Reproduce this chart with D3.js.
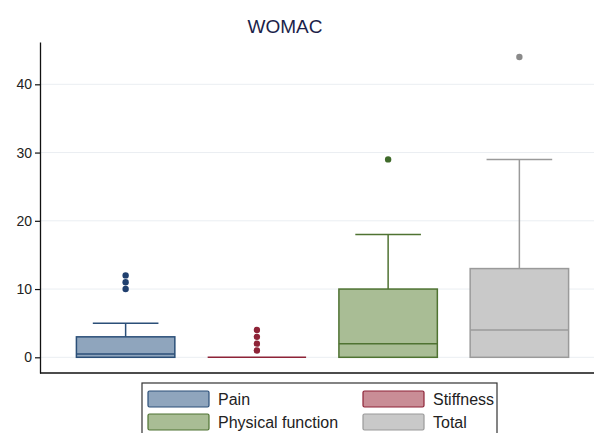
<!DOCTYPE html>
<html>
<head>
<meta charset="utf-8">
<script src="https://d3js.org/d3.v7.min.js"></script>
<style>
  body { margin: 0; background: #fff; }
  text { font-family: "Liberation Sans", Arial, sans-serif; }
</style>
</head>
<body>
<script>
// data
const categories = ["Pain", "Stiffness", "Physical function", "Total"];
const q1 = [0, 0, 0, 0];
const medians = [0.5, 0, 2, 4];
const q3 = [3, 0, 10, 13];
const whiskerHi = [5, 0, 18, 29];
const outliers = [[10, 11, 12], [1, 2, 3, 4], [29], [44]];
const yTicks = [0, 10, 20, 30, 40];

const fills = ["#8fa5bd", "#c98d96", "#a9bd95", "#c9c9c9"];
const strokes = ["#2b4f78", "#8e2337", "#4f7332", "#9a9a9a"];
const dots = ["#1f3f6e", "#8e2337", "#3f6a2a", "#8a8a8a"];

const width = 594, height = 433;

const svg = d3.select("body").append("svg")
    .attr("width", width)
    .attr("height", height);

const x = d3.scaleBand()
    .domain(categories)
    .range([60, 585])
    .paddingInner(0.25)
    .paddingOuter(0.125);

const y = d3.scaleLinear()
    .domain([-2.3, 46.2])
    .range([373, 42]);

// title
svg.append("text")
    .attr("x", 285)
    .attr("y", 33)
    .attr("text-anchor", "middle")
    .attr("font-size", 19)
    .attr("fill", "#1c1f4a")
    .text("WOMAC");

// grid lines
svg.append("g")
    .selectAll("line")
    .data(yTicks)
    .join("line")
        .attr("x1", 41)
        .attr("x2", width)
        .attr("y1", d => y(d))
        .attr("y2", d => y(d))
        .attr("stroke", "#eaeef2")
        .attr("stroke-width", 1);

// y axis
const yAxis = svg.append("g")
    .attr("transform", "translate(40,0)")
    .call(d3.axisLeft(y).tickValues(yTicks).tickSize(5).tickPadding(3).tickSizeOuter(0));
yAxis.select(".domain").attr("stroke", "#111").attr("stroke-width", 1.3);
yAxis.selectAll(".tick line").attr("stroke", "#111").attr("stroke-width", 1.2);
yAxis.selectAll(".tick text")
    .attr("font-size", 14)
    .attr("fill", "#222")
    .style("font-family", "\"Liberation Sans\", Arial, sans-serif");

// bottom line
svg.append("line")
    .attr("x1", 40).attr("x2", width)
    .attr("y1", 373).attr("y2", 373)
    .attr("stroke", "#111")
    .attr("stroke-width", 1.3);

// boxes
const boxes = svg.append("g");
categories.forEach(function (c, i) {
    const x0 = x(c), bw = x.bandwidth(), cx = x0 + bw / 2;
    const g = boxes.append("g");
    // whisker
    if (whiskerHi[i] > q3[i]) {
        g.append("line")
            .attr("x1", cx).attr("x2", cx)
            .attr("y1", y(q3[i])).attr("y2", y(whiskerHi[i]))
            .attr("stroke", strokes[i]).attr("stroke-width", 1.5);
        g.append("line")
            .attr("x1", cx - bw / 3).attr("x2", cx + bw / 3)
            .attr("y1", y(whiskerHi[i])).attr("y2", y(whiskerHi[i]))
            .attr("stroke", strokes[i]).attr("stroke-width", 1.5);
    }
    if (q3[i] > q1[i]) {
        g.append("rect")
            .attr("x", x0)
            .attr("y", y(q3[i]))
            .attr("width", bw)
            .attr("height", y(q1[i]) - y(q3[i]))
            .attr("fill", fills[i])
            .attr("stroke", strokes[i])
            .attr("stroke-width", 1.5);
    }
    g.append("line")
        .attr("x1", x0).attr("x2", x0 + bw)
        .attr("y1", y(medians[i])).attr("y2", y(medians[i]))
        .attr("stroke", strokes[i]).attr("stroke-width", 1.5);
    g.selectAll("circle")
        .data(outliers[i])
        .join("circle")
            .attr("cx", cx)
            .attr("cy", d => y(d))
            .attr("r", 3.2)
            .attr("fill", dots[i]);
});

// legend
const legend = svg.append("g");
legend.append("rect")
    .attr("x", 142).attr("y", 383)
    .attr("width", 355).attr("height", 60)
    .attr("fill", "#fff")
    .attr("stroke", "#333")
    .attr("stroke-width", 1.2);

const legPos = [[148, 391], [363, 391], [148, 414], [363, 414]];
categories.forEach(function (c, i) {
    const p = legPos[i];
    legend.append("rect")
        .attr("x", p[0]).attr("y", p[1])
        .attr("width", 61).attr("height", 16)
        .attr("rx", 1.5)
        .attr("fill", fills[i])
        .attr("stroke", strokes[i])
        .attr("stroke-width", 1.2);
    legend.append("text")
        .attr("x", p[0] + 70)
        .attr("y", p[1] + 14)
        .attr("font-size", 16)
        .attr("fill", "#222")
        .text(c);
});
</script>
</body>
</html>
